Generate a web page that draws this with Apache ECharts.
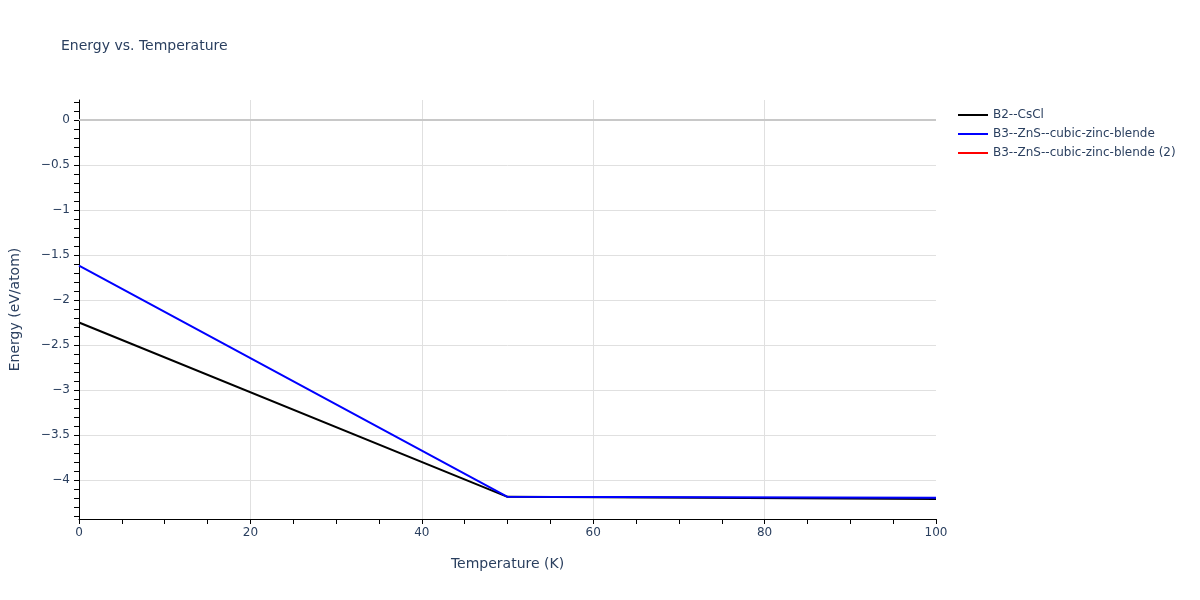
<!DOCTYPE html>
<html>
<head>
<meta charset="utf-8">
<script src="https://cdn.jsdelivr.net/npm/echarts@6/dist/echarts.min.js"></script>
<style>html,body{margin:0;padding:0;background:#fff}#c{width:1200px;height:600px}</style>
</head>
<body>
<div id="c"></div>
<script>
const temperatures = [0, 50, 100];
const b2CsCl = [-2.25, -4.187, -4.21];
const b3ZnS = [-1.617, -4.187, -4.198];
const b3ZnS2 = [];
const seriesNames = ['B2--CsCl', 'B3--ZnS--cubic-zinc-blende', 'B3--ZnS--cubic-zinc-blende (2)'];
const seriesColors = ['#000000', '#0000ff', '#ff0000'];
const yMin = -4.433, yMax = 0.222;
const yMinorTicks = [];
for (let i = -44; i <= 2; i++) yMinorTicks.push(i / 10);

const FONT = 'DejaVu Sans';
const TXT = '#2a3f5f';
const fmt = v => String(Math.round(v * 100) / 100).replace('-', '\u2212');

const pairs = arr => temperatures.map((t, i) => [t, arr[i]]).filter(p => p[1] !== undefined);
const allData = [b2CsCl, b3ZnS, b3ZnS2];

const chart = echarts.init(document.getElementById('c'), null, {renderer: 'canvas'});
chart.setOption({
  animation: false,
  backgroundColor: '#fff',
  textStyle: {fontFamily: FONT},
  title: {
    text: 'Energy vs. Temperature', left: 56, top: 34,
    textStyle: {fontFamily: FONT, fontSize: 14, fontWeight: 'normal', color: TXT}
  },
  legend: {
    orient: 'vertical', left: 953, top: 103, itemWidth: 30, itemHeight: 2, itemGap: 5,
    icon: 'rect',
    data: seriesNames,
    textStyle: {fontFamily: FONT, fontSize: 12, color: TXT, lineHeight: 14}
  },
  grid: {left: 79, right: 264, top: 100, bottom: 81, containLabel: false},
  xAxis: {
    type: 'value', min: 0, max: 100, interval: 20,
    name: 'Temperature (K)', nameLocation: 'middle', nameGap: 38,
    nameTextStyle: {fontFamily: FONT, fontSize: 14, color: TXT},
    axisLine: {show: true, onZero: false, lineStyle: {color: '#000', width: 1}},
    axisTick: {show: true, length: 5, lineStyle: {color: '#000'}},
    minorTick: {show: true, splitNumber: 4, length: 5, lineStyle: {color: '#000'}},
    axisLabel: {fontFamily: FONT, fontSize: 12, color: TXT, margin: 8},
    splitLine: {show: true, showMinLine: false, showMaxLine: false, lineStyle: {color: '#e0e0e0', width: 1}}
  },
  yAxis: [{
    type: 'value', min: yMin, max: yMax, splitNumber: 9,
    name: 'Energy (eV/atom)', nameLocation: 'middle', nameGap: 57,
    nameTextStyle: {fontFamily: FONT, fontSize: 14, color: TXT},
    axisLine: {show: true, onZero: false, lineStyle: {color: '#000', width: 1}},
    axisTick: {show: false},
    axisLabel: {fontFamily: FONT, fontSize: 12, color: TXT, margin: 9, formatter: fmt,
      showMinLabel: false, showMaxLabel: false},
    splitLine: {show: true, showMinLine: false, showMaxLine: false, lineStyle: {color: '#e0e0e0', width: 1}}
  }, {
    type: 'value', min: yMin, max: yMax, position: 'left',
    axisLine: {show: false},
    axisTick: {show: true, length: 5, customValues: yMinorTicks, lineStyle: {color: '#000'}},
    axisLabel: {show: false},
    splitLine: {show: false}
  }],
  series: allData.map((d, i) => ({
    name: seriesNames[i], type: 'line', data: pairs(d), yAxisIndex: 0,
    showSymbol: false, symbol: 'none', color: seriesColors[i],
    lineStyle: {width: 2, color: seriesColors[i]},
    z: 3 + i,
    markLine: i === 0 ? {
      silent: true, symbol: 'none', label: {show: false},
      lineStyle: {color: '#c8c8c8', width: 2, type: 'solid'},
      data: [{yAxis: 0}], z: 1
    } : undefined
  }))
});
</script>
</body>
</html>
